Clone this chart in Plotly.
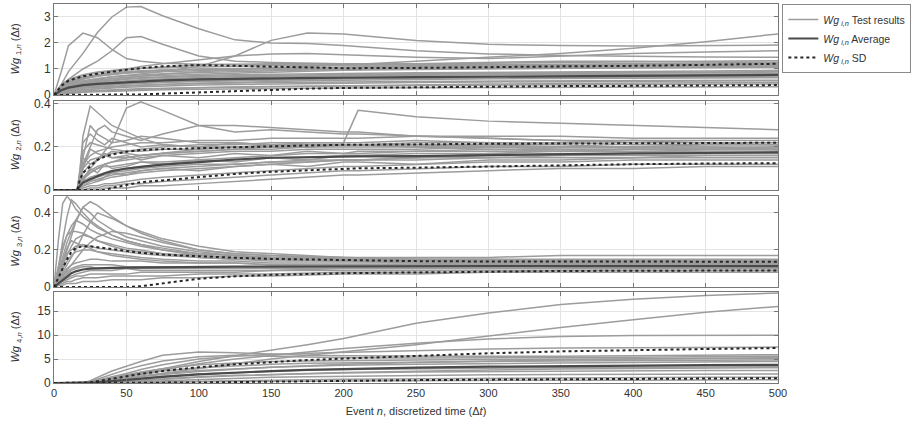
import plotly.graph_objects as go

# ---------------- Panel 1 : Wg_1,n ----------------
P1_X = [0, 5, 10, 20, 30, 40, 50, 60, 75, 100, 125, 150, 175, 200, 250, 300, 350, 400, 450, 500]
P1_TESTS = [
    [0, 0.30, 0.45, 0.62, 0.72, 0.80, 0.86, 0.90, 0.95, 1.00, 1.02, 1.05, 1.07, 1.08, 1.10, 1.12, 1.13, 1.15, 1.17, 1.20],
    [0, 0.20, 0.32, 0.45, 0.52, 0.58, 0.62, 0.66, 0.70, 0.75, 0.78, 0.80, 0.82, 0.83, 0.85, 0.86, 0.88, 0.90, 0.92, 0.95],
    [0, 0.15, 0.25, 0.35, 0.40, 0.44, 0.47, 0.50, 0.53, 0.57, 0.60, 0.62, 0.63, 0.65, 0.66, 0.68, 0.70, 0.71, 0.72, 0.74],
    [0, 0.10, 0.18, 0.26, 0.30, 0.33, 0.36, 0.38, 0.41, 0.44, 0.46, 0.48, 0.49, 0.50, 0.52, 0.53, 0.54, 0.55, 0.56, 0.57],
    [0, 0.05, 0.10, 0.15, 0.18, 0.20, 0.22, 0.24, 0.26, 0.29, 0.31, 0.33, 0.34, 0.35, 0.37, 0.38, 0.39, 0.40, 0.41, 0.42],
    [0, 0.35, 0.55, 0.75, 0.85, 0.92, 0.97, 1.02, 1.08, 1.15, 1.18, 1.20, 1.20, 1.19, 1.18, 1.17, 1.18, 1.20, 1.22, 1.25],
    [0, 0.25, 0.40, 0.55, 0.63, 0.70, 0.74, 0.78, 0.82, 0.86, 0.90, 0.93, 0.96, 0.98, 1.02, 1.05, 1.06, 1.07, 1.08, 1.10],
    [0, 0.12, 0.22, 0.32, 0.38, 0.42, 0.46, 0.50, 0.55, 0.62, 0.66, 0.70, 0.74, 0.76, 0.80, 0.82, 0.84, 0.85, 0.86, 0.88],
    [0, 0.08, 0.14, 0.20, 0.24, 0.27, 0.30, 0.32, 0.35, 0.38, 0.40, 0.42, 0.44, 0.46, 0.48, 0.50, 0.52, 0.53, 0.54, 0.55],
    [0, 0.40, 0.60, 0.78, 0.88, 0.95, 1.00, 1.03, 1.05, 1.08, 1.10, 1.12, 1.14, 1.15, 1.18, 1.22, 1.25, 1.28, 1.30, 1.32],
    [0, 0.03, 0.06, 0.10, 0.12, 0.14, 0.16, 0.18, 0.20, 0.22, 0.24, 0.25, 0.26, 0.27, 0.28, 0.29, 0.30, 0.30, 0.31, 0.32],
    [0, 0.18, 0.28, 0.40, 0.48, 0.55, 0.60, 0.64, 0.68, 0.72, 0.74, 0.76, 0.78, 0.80, 0.82, 0.84, 0.86, 0.87, 0.88, 0.90],
    [0, 0.22, 0.36, 0.50, 0.58, 0.64, 0.68, 0.72, 0.76, 0.80, 0.84, 0.88, 0.92, 0.95, 0.98, 1.00, 1.02, 1.05, 1.08, 1.12],
    [0, 0.06, 0.12, 0.20, 0.26, 0.30, 0.34, 0.37, 0.40, 0.45, 0.49, 0.52, 0.55, 0.57, 0.60, 0.62, 0.63, 0.64, 0.65, 0.66],
    [0, 0.14, 0.24, 0.36, 0.44, 0.50, 0.55, 0.59, 0.63, 0.67, 0.70, 0.72, 0.73, 0.74, 0.76, 0.78, 0.79, 0.80, 0.81, 0.82],
    [0, 0.09, 0.17, 0.27, 0.33, 0.38, 0.42, 0.45, 0.48, 0.52, 0.55, 0.57, 0.59, 0.61, 0.63, 0.64, 0.66, 0.67, 0.68, 0.69],
    [0, 0.28, 0.46, 0.64, 0.74, 0.80, 0.84, 0.87, 0.90, 0.93, 0.95, 0.97, 0.99, 1.00, 1.01, 1.02, 1.03, 1.04, 1.05, 1.06],
    [0, 0.04, 0.08, 0.13, 0.16, 0.18, 0.20, 0.22, 0.25, 0.28, 0.30, 0.32, 0.34, 0.36, 0.39, 0.42, 0.44, 0.46, 0.47, 0.48],
    [0, 0.32, 0.50, 0.68, 0.78, 0.85, 0.90, 0.93, 0.96, 0.98, 1.00, 1.02, 1.04, 1.05, 1.06, 1.08, 1.10, 1.12, 1.14, 1.16],
    [0, 0.11, 0.20, 0.30, 0.35, 0.40, 0.43, 0.46, 0.50, 0.54, 0.57, 0.60, 0.62, 0.64, 0.67, 0.70, 0.72, 0.74, 0.76, 0.78],
    [0, 0.90, 1.90, 2.38, 2.20, 1.75, 1.40, 1.30, 1.22, 1.18, 1.17, 1.16, 1.15, 1.15, 1.14, 1.14, 1.15, 1.16, 1.17, 1.18],
    [0, 0.40, 0.90, 1.60, 2.40, 3.00, 3.38, 3.40, 3.05, 2.55, 2.12, 2.00, 1.98, 1.90, 1.70, 1.58, 1.52, 1.48, 1.46, 1.45],
    [0, 0.30, 0.60, 1.00, 1.30, 1.70, 2.20, 2.25, 1.95, 1.50, 1.30, 1.25, 1.22, 1.20, 1.20, 1.25, 1.30, 1.30, 1.28, 1.25],
    [0, 0.20, 0.35, 0.50, 0.60, 0.70, 0.75, 0.80, 0.90, 1.10, 1.50, 2.10, 2.38, 2.35, 2.10, 1.95, 1.90, 1.88, 1.90, 1.92],
    [0, 0.15, 0.30, 0.45, 0.55, 0.62, 0.68, 0.72, 0.80, 0.90, 0.98, 1.05, 1.10, 1.15, 1.30, 1.45, 1.60, 1.80, 2.05, 2.35],
    [0, 0.25, 0.40, 0.60, 0.75, 0.90, 1.00, 1.10, 1.20, 1.35, 1.50, 1.58, 1.60, 1.55, 1.45, 1.40, 1.50, 1.60, 1.65, 1.70],
]
P1_AVG = [0, 0.18, 0.28, 0.38, 0.43, 0.46, 0.50, 0.53, 0.56, 0.60, 0.62, 0.64, 0.66, 0.67, 0.69, 0.70, 0.72, 0.73, 0.75, 0.77]
P1_SD_HI = [0, 0.35, 0.55, 0.72, 0.82, 0.90, 0.97, 1.03, 1.10, 1.15, 1.12, 1.08, 1.05, 1.03, 1.04, 1.08, 1.10, 1.12, 1.15, 1.20]
P1_SD_LO = [0, 0, 0, 0, 0, 0, 0, 0.02, 0.05, 0.10, 0.15, 0.20, 0.24, 0.27, 0.30, 0.32, 0.34, 0.35, 0.36, 0.38]

# ---------------- Panel 2 : Wg_2,n ----------------
P2_X = [0, 10, 16, 18, 20, 25, 30, 35, 40, 50, 60, 75, 100, 125, 150, 175, 200, 210, 250, 300, 350, 400, 450, 500]
P2_TESTS = [
    [0, 0, 0, 0.05, 0.10, 0.14, 0.15, 0.16, 0.17, 0.18, 0.19, 0.20, 0.21, 0.21, 0.22, 0.22, 0.22, 0.22, 0.23, 0.22, 0.22, 0.21, 0.21, 0.21],
    [0, 0, 0, 0.03, 0.06, 0.09, 0.11, 0.12, 0.13, 0.14, 0.15, 0.16, 0.17, 0.18, 0.18, 0.19, 0.19, 0.19, 0.19, 0.20, 0.20, 0.20, 0.20, 0.19],
    [0, 0, 0, 0.02, 0.04, 0.06, 0.07, 0.08, 0.09, 0.10, 0.11, 0.12, 0.13, 0.14, 0.15, 0.15, 0.16, 0.16, 0.17, 0.17, 0.18, 0.18, 0.18, 0.18],
    [0, 0, 0, 0.01, 0.02, 0.03, 0.04, 0.05, 0.06, 0.07, 0.08, 0.09, 0.10, 0.11, 0.12, 0.13, 0.14, 0.14, 0.15, 0.15, 0.16, 0.16, 0.16, 0.16],
    [0, 0, 0, 0, 0.01, 0.02, 0.02, 0.03, 0.03, 0.04, 0.05, 0.06, 0.07, 0.08, 0.09, 0.10, 0.11, 0.11, 0.12, 0.13, 0.13, 0.14, 0.14, 0.14],
    [0, 0, 0, 0.08, 0.18, 0.22, 0.21, 0.20, 0.19, 0.18, 0.18, 0.19, 0.19, 0.20, 0.20, 0.21, 0.21, 0.21, 0.20, 0.20, 0.19, 0.19, 0.19, 0.19],
    [0, 0, 0, 0.04, 0.08, 0.12, 0.14, 0.16, 0.18, 0.17, 0.16, 0.17, 0.18, 0.19, 0.20, 0.20, 0.21, 0.21, 0.22, 0.22, 0.22, 0.23, 0.23, 0.23],
    [0, 0, 0, 0.02, 0.03, 0.05, 0.06, 0.07, 0.08, 0.09, 0.10, 0.11, 0.12, 0.12, 0.13, 0.13, 0.14, 0.14, 0.14, 0.15, 0.15, 0.15, 0.16, 0.16],
    [0, 0, 0, 0, 0, 0.01, 0.01, 0.02, 0.02, 0.03, 0.03, 0.04, 0.05, 0.06, 0.07, 0.08, 0.09, 0.09, 0.10, 0.11, 0.11, 0.12, 0.12, 0.12],
    [0, 0, 0, 0.06, 0.12, 0.16, 0.18, 0.19, 0.20, 0.21, 0.22, 0.22, 0.23, 0.23, 0.24, 0.24, 0.24, 0.24, 0.25, 0.25, 0.25, 0.24, 0.24, 0.24],
    [0, 0, 0, 0.03, 0.05, 0.08, 0.10, 0.11, 0.11, 0.12, 0.13, 0.13, 0.14, 0.15, 0.16, 0.17, 0.17, 0.17, 0.18, 0.18, 0.18, 0.19, 0.19, 0.19],
    [0, 0, 0, 0.01, 0.02, 0.04, 0.05, 0.06, 0.07, 0.08, 0.09, 0.10, 0.11, 0.12, 0.13, 0.14, 0.14, 0.14, 0.15, 0.16, 0.17, 0.17, 0.17, 0.18],
    [0, 0, 0, 0, 0, 0, 0, 0.01, 0.01, 0.01, 0.02, 0.02, 0.03, 0.04, 0.05, 0.06, 0.07, 0.07, 0.08, 0.09, 0.10, 0.10, 0.11, 0.11],
    [0, 0, 0, 0.05, 0.10, 0.19, 0.17, 0.16, 0.15, 0.15, 0.16, 0.17, 0.18, 0.19, 0.19, 0.20, 0.21, 0.21, 0.21, 0.21, 0.21, 0.20, 0.20, 0.20],
    [0, 0, 0, 0.07, 0.15, 0.12, 0.14, 0.17, 0.15, 0.16, 0.14, 0.16, 0.15, 0.17, 0.16, 0.18, 0.17, 0.18, 0.18, 0.19, 0.18, 0.19, 0.19, 0.20],
    [0, 0, 0, 0.02, 0.04, 0.10, 0.08, 0.12, 0.10, 0.11, 0.13, 0.12, 0.14, 0.13, 0.15, 0.14, 0.16, 0.16, 0.15, 0.17, 0.16, 0.17, 0.17, 0.17],
    [0, 0, 0, 0.01, 0.03, 0.05, 0.04, 0.06, 0.08, 0.07, 0.09, 0.10, 0.09, 0.11, 0.12, 0.11, 0.13, 0.13, 0.12, 0.14, 0.14, 0.15, 0.15, 0.15],
    [0, 0, 0, 0.09, 0.22, 0.26, 0.23, 0.21, 0.24, 0.22, 0.20, 0.21, 0.20, 0.22, 0.21, 0.20, 0.21, 0.21, 0.20, 0.21, 0.20, 0.20, 0.21, 0.21],
    [0, 0, 0, 0.10, 0.25, 0.39, 0.36, 0.33, 0.30, 0.27, 0.24, 0.21, 0.20, 0.20, 0.20, 0.20, 0.20, 0.20, 0.20, 0.19, 0.19, 0.19, 0.18, 0.18],
    [0, 0, 0, 0.02, 0.05, 0.10, 0.14, 0.18, 0.22, 0.38, 0.41, 0.37, 0.30, 0.27, 0.28, 0.27, 0.26, 0.26, 0.25, 0.24, 0.23, 0.23, 0.22, 0.22],
    [0, 0, 0, 0.02, 0.05, 0.08, 0.10, 0.12, 0.13, 0.15, 0.16, 0.17, 0.19, 0.20, 0.21, 0.22, 0.22, 0.37, 0.34, 0.32, 0.31, 0.30, 0.29, 0.28],
    [0, 0, 0, 0.05, 0.12, 0.20, 0.28, 0.30, 0.27, 0.25, 0.23, 0.26, 0.30, 0.30, 0.29, 0.28, 0.27, 0.27, 0.25, 0.24, 0.23, 0.22, 0.22, 0.21],
    [0, 0, 0, 0.03, 0.15, 0.30, 0.26, 0.24, 0.22, 0.23, 0.25, 0.24, 0.22, 0.22, 0.21, 0.21, 0.21, 0.21, 0.21, 0.20, 0.20, 0.20, 0.19, 0.19],
]
P2_AVG = [0, 0, 0, 0.02, 0.035, 0.05, 0.065, 0.078, 0.088, 0.10, 0.108, 0.118, 0.13, 0.142, 0.15, 0.153, 0.155, 0.156, 0.158, 0.163, 0.167, 0.17, 0.172, 0.175]
P2_SD_HI = [0, 0, 0, 0.05, 0.08, 0.11, 0.14, 0.155, 0.165, 0.178, 0.186, 0.19, 0.195, 0.20, 0.205, 0.207, 0.21, 0.21, 0.212, 0.215, 0.215, 0.217, 0.218, 0.22]
P2_SD_LO = [0, 0, 0, 0, 0, 0, 0, 0, 0.01, 0.025, 0.037, 0.045, 0.06, 0.075, 0.085, 0.092, 0.10, 0.101, 0.104, 0.11, 0.115, 0.12, 0.123, 0.125]

# ---------------- Panel 3 : Wg_3,n ----------------
P3_X = [0, 3, 6, 9, 12, 15, 20, 25, 30, 40, 50, 60, 75, 100, 125, 150, 200, 250, 300, 350, 400, 450, 500]
P3_TESTS = [
    [0, 0.25, 0.45, 0.49, 0.46, 0.42, 0.38, 0.35, 0.32, 0.28, 0.25, 0.23, 0.20, 0.17, 0.16, 0.15, 0.14, 0.14, 0.13, 0.13, 0.13, 0.13, 0.13],
    [0, 0.10, 0.25, 0.38, 0.47, 0.45, 0.40, 0.36, 0.33, 0.28, 0.25, 0.23, 0.21, 0.18, 0.17, 0.16, 0.15, 0.14, 0.14, 0.14, 0.13, 0.13, 0.13],
    [0, 0.05, 0.12, 0.20, 0.28, 0.35, 0.43, 0.46, 0.44, 0.38, 0.33, 0.29, 0.25, 0.20, 0.18, 0.17, 0.15, 0.14, 0.14, 0.14, 0.14, 0.14, 0.14],
    [0, 0.04, 0.08, 0.12, 0.16, 0.20, 0.28, 0.35, 0.40, 0.37, 0.33, 0.30, 0.26, 0.22, 0.19, 0.18, 0.16, 0.15, 0.15, 0.14, 0.14, 0.14, 0.14],
    [0, 0.10, 0.20, 0.28, 0.33, 0.36, 0.34, 0.31, 0.29, 0.26, 0.24, 0.22, 0.20, 0.18, 0.17, 0.16, 0.15, 0.14, 0.13, 0.13, 0.13, 0.13, 0.12],
    [0, 0.03, 0.06, 0.09, 0.12, 0.15, 0.20, 0.24, 0.27, 0.30, 0.29, 0.27, 0.24, 0.20, 0.18, 0.17, 0.16, 0.15, 0.15, 0.15, 0.15, 0.15, 0.15],
    [0, 0.08, 0.16, 0.24, 0.30, 0.36, 0.43, 0.40, 0.36, 0.31, 0.27, 0.25, 0.22, 0.19, 0.17, 0.16, 0.15, 0.15, 0.14, 0.14, 0.14, 0.14, 0.14],
    [0, 0.05, 0.10, 0.14, 0.17, 0.19, 0.20, 0.20, 0.19, 0.18, 0.17, 0.16, 0.15, 0.14, 0.14, 0.13, 0.13, 0.13, 0.12, 0.12, 0.12, 0.12, 0.12],
    [0, 0.03, 0.06, 0.08, 0.10, 0.11, 0.12, 0.12, 0.12, 0.12, 0.11, 0.11, 0.11, 0.11, 0.11, 0.11, 0.11, 0.11, 0.11, 0.11, 0.11, 0.11, 0.11],
    [0, 0.02, 0.03, 0.04, 0.05, 0.06, 0.06, 0.07, 0.07, 0.07, 0.07, 0.08, 0.08, 0.08, 0.08, 0.09, 0.09, 0.09, 0.09, 0.09, 0.09, 0.09, 0.09],
    [0, 0.01, 0.01, 0.02, 0.02, 0.02, 0.03, 0.03, 0.03, 0.04, 0.04, 0.04, 0.05, 0.05, 0.06, 0.06, 0.07, 0.07, 0.08, 0.08, 0.08, 0.08, 0.08],
    [0, 0.08, 0.14, 0.18, 0.20, 0.22, 0.23, 0.22, 0.21, 0.20, 0.19, 0.18, 0.17, 0.16, 0.15, 0.14, 0.14, 0.13, 0.13, 0.13, 0.12, 0.12, 0.12],
    [0, 0.04, 0.07, 0.10, 0.12, 0.13, 0.14, 0.15, 0.15, 0.14, 0.14, 0.14, 0.13, 0.13, 0.13, 0.12, 0.12, 0.12, 0.12, 0.12, 0.12, 0.12, 0.11],
    [0, 0.02, 0.04, 0.05, 0.06, 0.07, 0.08, 0.09, 0.09, 0.09, 0.10, 0.10, 0.10, 0.10, 0.10, 0.10, 0.10, 0.10, 0.10, 0.10, 0.10, 0.10, 0.10],
    [0, 0.06, 0.12, 0.17, 0.22, 0.26, 0.28, 0.27, 0.25, 0.23, 0.21, 0.20, 0.18, 0.16, 0.15, 0.15, 0.14, 0.14, 0.14, 0.13, 0.13, 0.13, 0.13],
    [0, 0.01, 0.02, 0.03, 0.03, 0.04, 0.05, 0.05, 0.05, 0.06, 0.06, 0.06, 0.06, 0.07, 0.07, 0.07, 0.08, 0.08, 0.08, 0.09, 0.09, 0.09, 0.09],
    [0, 0.12, 0.22, 0.28, 0.30, 0.30, 0.29, 0.27, 0.25, 0.22, 0.20, 0.19, 0.18, 0.17, 0.16, 0.16, 0.16, 0.16, 0.16, 0.17, 0.17, 0.17, 0.17],
    [0, 0.06, 0.14, 0.21, 0.25, 0.24, 0.22, 0.21, 0.19, 0.17, 0.16, 0.15, 0.14, 0.13, 0.13, 0.12, 0.12, 0.12, 0.12, 0.11, 0.11, 0.11, 0.11],
    [0, 0.02, 0.05, 0.07, 0.09, 0.10, 0.11, 0.11, 0.10, 0.10, 0.10, 0.09, 0.09, 0.09, 0.09, 0.09, 0.10, 0.10, 0.10, 0.10, 0.10, 0.10, 0.10],
]
P3_AVG = [0, 0.02, 0.04, 0.06, 0.075, 0.085, 0.095, 0.10, 0.102, 0.104, 0.105, 0.106, 0.107, 0.108, 0.11, 0.11, 0.112, 0.113, 0.113, 0.113, 0.113, 0.113, 0.113]
P3_SD_HI = [0, 0.05, 0.10, 0.15, 0.19, 0.21, 0.22, 0.22, 0.215, 0.205, 0.195, 0.185, 0.175, 0.165, 0.158, 0.152, 0.145, 0.14, 0.138, 0.137, 0.137, 0.137, 0.137]
P3_SD_LO = [0, 0, 0, 0, 0, 0, 0, 0, 0, 0, 0, 0.005, 0.02, 0.045, 0.058, 0.066, 0.075, 0.08, 0.085, 0.087, 0.088, 0.089, 0.09]

# ---------------- Panel 4 : Wg_4,n ----------------
P4_X = [0, 10, 20, 25, 30, 40, 50, 60, 75, 100, 125, 150, 175, 200, 250, 300, 350, 400, 450, 500]
P4_TESTS = [
    [0, 0, 0, 0.2, 0.5, 1.0, 1.6, 2.2, 3.0, 4.5, 5.7, 6.8, 8.0, 9.3, 12.5, 14.6, 16.4, 17.5, 18.3, 18.8],
    [0, 0, 0, 0.1, 0.3, 0.6, 1.0, 1.4, 2.0, 3.0, 4.0, 5.0, 5.8, 6.5, 8.0, 9.8, 11.6, 13.2, 14.8, 16.0],
    [0, 0, 0, 0.1, 0.3, 0.8, 1.4, 2.0, 2.8, 4.0, 5.0, 5.8, 6.5, 7.2, 8.3, 9.2, 9.7, 9.9, 10.0, 10.0],
    [0, 0, 0, 0.2, 0.6, 1.3, 2.0, 2.8, 3.8, 5.0, 5.6, 6.0, 6.2, 6.4, 6.8, 7.1, 7.3, 7.4, 7.5, 7.5],
    [0, 0, 0, 0.5, 1.2, 2.5, 3.5, 4.5, 5.8, 6.5, 6.3, 6.0, 5.8, 5.7, 5.6, 5.6, 5.6, 5.7, 5.8, 5.9],
    [0, 0, 0, 0.3, 0.8, 1.8, 2.8, 3.6, 4.6, 5.5, 5.8, 5.6, 5.4, 5.3, 5.2, 5.2, 5.3, 5.4, 5.5, 5.6],
    [0, 0, 0, 0.1, 0.3, 0.7, 1.1, 1.5, 2.0, 2.6, 3.0, 3.3, 3.5, 3.7, 3.9, 4.1, 4.2, 4.3, 4.4, 4.5],
    [0, 0, 0, 0.05, 0.15, 0.4, 0.7, 1.0, 1.4, 1.9, 2.2, 2.5, 2.7, 2.8, 3.0, 3.1, 3.2, 3.3, 3.4, 3.4],
    [0, 0, 0, 0.02, 0.05, 0.2, 0.4, 0.6, 0.9, 1.3, 1.6, 1.8, 2.0, 2.1, 2.3, 2.4, 2.5, 2.5, 2.6, 2.6],
    [0, 0, 0, 0, 0.02, 0.1, 0.2, 0.3, 0.5, 0.8, 1.0, 1.2, 1.3, 1.4, 1.6, 1.7, 1.8, 1.8, 1.9, 1.9],
    [0, 0, 0, 0, 0, 0.05, 0.1, 0.15, 0.25, 0.4, 0.5, 0.6, 0.7, 0.8, 0.9, 1.0, 1.1, 1.1, 1.2, 1.2],
    [0, 0, 0, 0.2, 0.5, 1.1, 1.7, 2.3, 3.0, 3.8, 4.2, 4.5, 4.6, 4.7, 4.8, 4.9, 5.0, 5.0, 5.1, 5.1],
    [0, 0, 0, 0.1, 0.2, 0.5, 0.9, 1.3, 1.8, 2.4, 2.9, 3.3, 3.6, 3.9, 4.3, 4.6, 4.8, 5.0, 5.2, 5.3],
    [0, 0, 0, 0, 0.05, 0.15, 0.3, 0.5, 0.8, 1.2, 1.5, 1.8, 2.0, 2.2, 2.5, 2.7, 2.9, 3.0, 3.1, 3.2],
    [0, 0, 0, 0, 0, 0.02, 0.05, 0.1, 0.15, 0.25, 0.3, 0.35, 0.4, 0.45, 0.5, 0.55, 0.6, 0.6, 0.65, 0.7],
    [0, 0, 0, 0.15, 0.4, 0.9, 1.4, 1.9, 2.5, 3.2, 3.6, 3.9, 4.1, 4.2, 4.4, 4.5, 4.6, 4.7, 4.7, 4.8],
]
P4_AVG = [0, 0, 0, 0.05, 0.15, 0.4, 0.7, 0.95, 1.3, 1.8, 2.2, 2.5, 2.75, 2.95, 3.2, 3.4, 3.55, 3.65, 3.75, 3.8]
P4_SD_HI = [0, 0, 0, 0.1, 0.35, 0.9, 1.4, 1.9, 2.5, 3.3, 3.9, 4.4, 4.8, 5.1, 5.7, 6.2, 6.6, 6.9, 7.1, 7.3]
P4_SD_LO = [0, 0, 0, 0, 0, 0, 0, 0, 0, 0.1, 0.2, 0.3, 0.4, 0.5, 0.6, 0.7, 0.8, 0.85, 0.9, 1.0]

# ---------------- axes / labels ----------------
X_TICKS = [0, 50, 100, 150, 200, 250, 300, 350, 400, 450, 500]
Y_TICKS = [[0, 1, 2, 3], [0, 0.2, 0.4], [0, 0.2, 0.4], [0, 5, 10, 15]]
Y_RANGES = [[0, 3.5], [0, 0.415], [0, 0.49], [0, 19]]
Y_TITLES = [
    "<i>Wg</i> <sub>1,<i>n</i></sub> (Δ<i>t</i>)",
    "<i>Wg</i> <sub>2,<i>n</i></sub> (Δ<i>t</i>)",
    "<i>Wg</i> <sub>3,<i>n</i></sub> (Δ<i>t</i>)",
    "<i>Wg</i> <sub>4,<i>n</i></sub> (Δ<i>t</i>)",
]
X_TITLE = "Event <i>n</i>, discretized time (Δ<i>t</i>)"
LEG_TEST = "<i>Wg</i><sub> <i>i,n</i></sub> Test results"
LEG_AVG = "<i>Wg</i><sub> <i>i,n</i></sub> Average"
LEG_SD = "<i>Wg</i><sub> <i>i,n</i></sub> SD"

DOMAINS = [[0.760, 1.0], [0.509, 0.745], [0.253, 0.493], [0.0, 0.24]]

TEST_COLOR = "#9c9c9c"
AVG_COLOR = "#4a4a4a"
SD_COLOR = "#262626"

panels = [
    (P1_X, P1_TESTS, P1_AVG, P1_SD_HI, P1_SD_LO),
    (P2_X, P2_TESTS, P2_AVG, P2_SD_HI, P2_SD_LO),
    (P3_X, P3_TESTS, P3_AVG, P3_SD_HI, P3_SD_LO),
    (P4_X, P4_TESTS, P4_AVG, P4_SD_HI, P4_SD_LO),
]

fig = go.Figure()
for i, (xs, tests, avg, hi, lo) in enumerate(panels):
    xa = "x" if i == 0 else f"x{i+1}"
    ya = "y" if i == 0 else f"y{i+1}"
    for j, t in enumerate(tests):
        fig.add_trace(go.Scatter(
            x=xs, y=t, mode="lines", xaxis=xa, yaxis=ya,
            line=dict(color=TEST_COLOR, width=1.5),
            name=LEG_TEST, legendgroup="test",
            showlegend=(i == 0 and j == 0), hoverinfo="skip"))
    fig.add_trace(go.Scatter(
        x=xs, y=avg, mode="lines", xaxis=xa, yaxis=ya,
        line=dict(color=AVG_COLOR, width=2.2),
        name=LEG_AVG, legendgroup="avg", showlegend=(i == 0), hoverinfo="skip"))
    for k, sd in enumerate([hi, lo]):
        fig.add_trace(go.Scatter(
            x=xs, y=sd, mode="lines", xaxis=xa, yaxis=ya,
            line=dict(color=SD_COLOR, width=2, dash="dot"),
            name=LEG_SD, legendgroup="sd", showlegend=(i == 0 and k == 0),
            hoverinfo="skip"))

annotations = []
for i in range(4):
    d = DOMAINS[i]
    annotations.append(dict(
        text=Y_TITLES[i], xref="paper", yref="paper",
        x=-38 / 724, y=(d[0] + d[1]) / 2, xanchor="center", yanchor="middle",
        textangle=-90, showarrow=False, font=dict(size=11, color="#333")))

layout = dict(
    width=915, height=421,
    margin=dict(l=54, r=137, t=4, b=38, autoexpand=False),
    paper_bgcolor="white", plot_bgcolor="white",
    font=dict(family="Liberation Sans, Arial, sans-serif", size=11, color="#333"),
    showlegend=True,
    legend=dict(x=1.006, y=1.0, xanchor="left", yanchor="top",
                bordercolor="#8a8a8a", borderwidth=1, bgcolor="white",
                font=dict(size=10.5, color="#333"), tracegroupgap=0,
                itemwidth=30),
    annotations=annotations,
)
for i in range(4):
    xkey = "xaxis" if i == 0 else f"xaxis{i+1}"
    ykey = "yaxis" if i == 0 else f"yaxis{i+1}"
    ya = "y" if i == 0 else f"y{i+1}"
    xa = "x" if i == 0 else f"x{i+1}"
    layout[xkey] = dict(
        domain=[0, 1], anchor=ya, range=[0, 500], tickvals=X_TICKS,
        showticklabels=(i == 3), ticks="inside", ticklen=4, tickcolor="#777",
        showgrid=True, gridcolor="#e4e4e4", gridwidth=1, zeroline=False,
        showline=True, linecolor="#777", linewidth=1, mirror="ticks",
        tickfont=dict(size=11, color="#333"), automargin=False,
        title=dict(text=X_TITLE if i == 3 else "", font=dict(size=11), standoff=9),
    )
    if i > 0:
        layout[xkey]["matches"] = "x"
    layout[ykey] = dict(
        domain=DOMAINS[i], anchor=xa, range=Y_RANGES[i], tickvals=Y_TICKS[i],
        ticks="inside", ticklen=4, tickcolor="#777",
        showgrid=True, gridcolor="#e4e4e4", gridwidth=1, zeroline=False,
        showline=True, linecolor="#777", linewidth=1, mirror="ticks",
        tickfont=dict(size=12, color="#333"), automargin=False,
    )
fig.update_layout(**layout)
fig.write_html("out.html", config={"displayModeBar": False, "staticPlot": True},
               post_script="document.body.style.margin='0';")
